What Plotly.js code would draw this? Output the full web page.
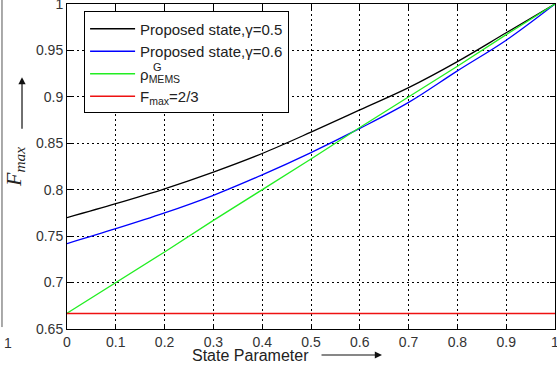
<!DOCTYPE html>
<html>
<head>
<meta charset="utf-8">
<script src="https://cdn.plot.ly/plotly-3.0.1.min.js"></script>
<style>html,body{margin:0;padding:0;background:#fff;}#chart{width:557px;height:368px;}</style>
</head>
<body>
<div id="chart"></div>
<script>
// State parameter values
const stateParam = [0, 0.1, 0.2, 0.3, 0.4, 0.5, 0.6, 0.7, 0.8, 0.9, 1.0];
// Proposed state, gamma = 0.5
const fmaxGamma05 = [0.770, 0.785, 0.801, 0.819, 0.839, 0.862, 0.886, 0.910, 0.938, 0.969, 1.000];
// Proposed state, gamma = 0.6
const fmaxGamma06 = [0.742, 0.758, 0.775, 0.794, 0.816, 0.840, 0.866, 0.894, 0.928, 0.961, 1.000];
// rho^G_MEMS
const fmaxMEMS = [0.667, 0.700, 0.733, 0.767, 0.800, 0.833, 0.867, 0.900, 0.933, 0.967, 1.000];
// classical limit F_max = 2/3
const fmaxClassical = [0.6667, 0.6667, 0.6667, 0.6667, 0.6667, 0.6667, 0.6667, 0.6667, 0.6667, 0.6667, 0.6667];

const yTickVals = [0.65, 0.7, 0.75, 0.8, 0.85, 0.9, 0.95, 1];
const yTickText = ['0.65', '0.7', '0.75', '0.8', '0.85', '0.9', '0.95', '1'];
const xTickVals = [0, 0.1, 0.2, 0.3, 0.4, 0.5, 0.6, 0.7, 0.8, 0.9, 1];
const xTickText = ['0', '0.1', '0.2', '0.3', '0.4', '0.5', '0.6', '0.7', '0.8', '0.9', '1'];

const names = ['Proposed state,γ=0.5', 'Proposed state,γ=0.6', 'ρ<sub>MEMS</sub>', 'F<sub>max</sub>=2/3'];

const traces = [
  {x: stateParam, y: fmaxGamma05, name: names[0], mode: 'lines', line: {color: '#000000', width: 1.3, shape: 'spline'}},
  {x: stateParam, y: fmaxGamma06, name: names[1], mode: 'lines', line: {color: '#0000ff', width: 1.3, shape: 'spline'}},
  {x: stateParam, y: fmaxMEMS, name: names[2], mode: 'lines', line: {color: '#22ee22', width: 1.3}},
  {x: stateParam, y: fmaxClassical, name: names[3], mode: 'lines', line: {color: '#ee1111', width: 1.3}}
];

const axisCommon = {
  showline: true, linecolor: '#000', linewidth: 1, mirror: 'allticks',
  ticks: 'inside', ticklen: 5, tickcolor: '#000', tickwidth: 1,
  showgrid: true, gridcolor: '#000', gridwidth: 1, griddash: '2px,3px',
  zeroline: false, ticklabeloverflow: 'allow',
  tickfont: {family: 'Liberation Sans, Arial, sans-serif', size: 14, color: '#333'}
};

const sans = 'Liberation Sans, Arial, sans-serif';

const layout = {
  width: 557, height: 368,
  margin: {l: 67, r: 2, t: 4, b: 39},
  paper_bgcolor: '#fff', plot_bgcolor: '#fff',
  showlegend: true,
  xaxis: Object.assign({}, axisCommon, {range: [0, 1], tickvals: xTickVals, ticktext: xTickText}),
  yaxis: Object.assign({}, axisCommon, {range: [0.65, 1], tickvals: yTickVals, ticktext: yTickText,
    title: {text: '<i>F<sub>max</sub></i>', font: {family: 'Liberation Serif, Times New Roman, serif', size: 22, color: '#222'}, standoff: 8}}),
  legend: {
    x: 0.035, y: 0.977, xanchor: 'left', yanchor: 'top',
    bgcolor: '#fff', bordercolor: '#000', borderwidth: 1,
    font: {family: sans, size: 15, color: '#222'},
    itemwidth: 45,
    tracegroupgap: 0
  },
  annotations: [
    {xref: 'paper', yref: 'paper', x: 0.376, y: -0.08, text: 'State Parameter', showarrow: false,
     font: {family: sans, size: 16, color: '#222'}, xanchor: 'center', yanchor: 'middle'},
    {xref: 'paper', yref: 'paper', x: 0.6455, y: -0.08, ax: -62, ay: 0, text: '', showarrow: true,
     arrowhead: 2, arrowsize: 1.2, arrowwidth: 1.2, arrowcolor: '#111'},
    {xref: 'paper', yref: 'paper', x: -0.0922, y: 0.775, ax: 0, ay: 53, text: '', showarrow: true,
     arrowhead: 2, arrowsize: 1.2, arrowwidth: 1.2, arrowcolor: '#111'},
    {xref: 'paper', yref: 'paper', x: -0.1332, y: -0.075, text: '1', showarrow: false, xanchor: 'left',
     font: {family: sans, size: 14, color: '#333'}},
    {xref: 'paper', yref: 'paper', x: 0.172, y: 0.806, text: 'G', showarrow: false, xanchor: 'left', yanchor: 'middle',
     font: {family: sans, size: 11, color: '#222'}}
  ],
  shapes: [
    {type: 'line', xref: 'paper', yref: 'paper', x0: -0.1332, x1: -0.1332, y0: 0.006, y1: 1.02,
     line: {color: '#555', width: 1}}
  ]
};

Plotly.newPlot('chart', traces, layout, {displayModeBar: false, staticPlot: true});
</script>
</body>
</html>
